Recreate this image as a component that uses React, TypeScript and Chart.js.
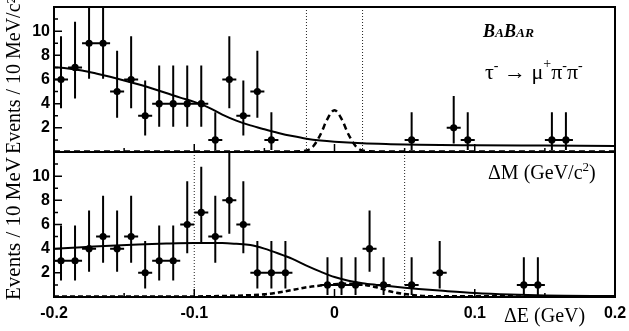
import React, { useEffect, useRef } from "react";
import { Chart, registerables } from "chart.js";

Chart.register(...registerables);

// ---------- data (top panel: ΔM) ----------
const topCenters = [-0.195, -0.185, -0.175, -0.165, -0.155, -0.145, -0.135, -0.125, -0.115, -0.105, -0.095, -0.085, -0.075, -0.065, -0.055, -0.045, 0.055, 0.085, 0.095, 0.155, 0.165];
const topCounts = [6, 7, 9, 9, 5, 6, 3, 4, 4, 4, 4, 1, 6, 3, 5, 1, 1, 2, 1, 1, 1];
const topLower = [3.62, 4.42, 6.06, 6.06, 2.84, 3.62, 1.37, 2.09, 2.09, 2.09, 2.09, 0.17, 3.62, 1.37, 2.84, 0.17, 0.17, 0.71, 0.17, 0.17, 0.17];
const topUpper = [9.58, 10.77, 13.11, 13.11, 8.38, 9.58, 5.92, 7.16, 7.16, 7.16, 7.16, 3.3, 9.58, 5.92, 8.38, 3.3, 3.3, 4.64, 3.3, 3.3, 3.3];

const topFitX = [-0.2, -0.19, -0.18, -0.17, -0.16, -0.15, -0.14, -0.13, -0.12, -0.11, -0.1, -0.09, -0.08, -0.07, -0.06, -0.05, -0.04, -0.03, -0.02, -0.01, 0, 0.02, 0.04, 0.06, 0.1, 0.15, 0.2];
const topFitY = [7.02, 6.92, 6.75, 6.5, 6.22, 5.92, 5.6, 5.25, 4.88, 4.5, 4.15, 3.7, 3.1, 2.6, 2.2, 1.88, 1.58, 1.32, 1.1, 0.95, 0.85, 0.72, 0.65, 0.6, 0.56, 0.53, 0.5];
const topSigX = [-0.2, -0.03, -0.02, -0.015, -0.01, -0.005, 0, 0.005, 0.01, 0.015, 0.02, 0.03, 0.2];
const topSigY = [0.05, 0.05, 0.12, 0.5, 1.45, 2.75, 3.46, 2.75, 1.45, 0.5, 0.12, 0.05, 0.05];
const topCuts = [-0.02, 0.02];

// ---------- data (bottom panel: ΔE) ----------
const botCenters = [-0.195, -0.185, -0.175, -0.165, -0.155, -0.145, -0.135, -0.125, -0.115, -0.105, -0.095, -0.085, -0.075, -0.065, -0.055, -0.045, -0.035, -0.005, 0.005, 0.015, 0.025, 0.035, 0.055, 0.075, 0.135, 0.145];
const botCounts = [3, 3, 4, 5, 4, 5, 2, 3, 3, 6, 7, 5, 8, 6, 2, 2, 2, 1, 1, 1, 4, 1, 1, 2, 1, 1];
const botLower = [1.37, 1.37, 2.09, 2.84, 2.09, 2.84, 0.71, 1.37, 1.37, 3.62, 4.42, 2.84, 5.23, 3.62, 0.71, 0.71, 0.71, 0.17, 0.17, 0.17, 2.09, 0.17, 0.17, 0.71, 0.17, 0.17];
const botUpper = [5.92, 5.92, 7.16, 8.38, 7.16, 8.38, 4.64, 5.92, 5.92, 9.58, 10.77, 8.38, 11.95, 9.58, 4.64, 4.64, 4.64, 3.3, 3.3, 3.3, 7.16, 3.3, 3.3, 4.64, 3.3, 3.3];

const botFitX = [-0.2, -0.18, -0.16, -0.14, -0.12, -0.1, -0.08, -0.07, -0.06, -0.05, -0.04, -0.03, -0.02, -0.01, 0, 0.01, 0.02, 0.03, 0.04, 0.05, 0.06, 0.075, 0.1, 0.125, 0.15, 0.2];
const botFitY = [4.0, 4.12, 4.25, 4.35, 4.42, 4.46, 4.46, 4.4, 4.3, 4.0, 3.6, 3.15, 2.6, 2.1, 1.65, 1.35, 1.14, 1.0, 0.88, 0.76, 0.66, 0.53, 0.33, 0.2, 0.12, 0.08];
const botSigX = [-0.2, -0.1, -0.08, -0.06, -0.05, -0.04, -0.03, -0.02, -0.01, 0, 0.01, 0.02, 0.03, 0.04, 0.05, 0.06, 0.07, 0.2];
const botSigY = [0.05, 0.05, 0.08, 0.15, 0.22, 0.38, 0.58, 0.8, 0.95, 1.06, 1.1, 1.02, 0.8, 0.45, 0.25, 0.12, 0.06, 0.05];
const botCuts = [-0.1, 0.05];

// ---------- axis settings ----------
const xRange = [-0.2, 0.2];
const yRange = [0, 12];
const yLabelled = [2, 4, 6, 8, 10];
const yTickMarks = [1, 2, 3, 4, 5, 6, 7, 8, 9, 10, 11];
const xTickMarks = [-0.15, -0.1, -0.05, 0, 0.05, 0.1, 0.15];
const xLabelled = [-0.2, -0.1, 0, 0.1, 0.2];
const binHalfWidth = 0.005;

const SERIF = '"Liberation Serif", "Times New Roman", serif';
const SANS = '"Liberation Sans", Arial, sans-serif';

type P = { x: number; y: number | null };

function pairs(xs: number[], ys: number[]): P[] {
  return xs.map((x, i) => ({ x, y: ys[i] }));
}
function verticalBars(c: number[], lo: number[], hi: number[]): P[] {
  const out: P[] = [];
  c.forEach((x, i) => {
    out.push({ x, y: lo[i] }, { x, y: hi[i] }, { x, y: null });
  });
  return out;
}
function horizontalBars(c: number[], v: number[]): P[] {
  const out: P[] = [];
  c.forEach((x, i) => {
    out.push({ x: x - binHalfWidth, y: v[i] }, { x: x + binHalfWidth, y: v[i] }, { x, y: null });
  });
  return out;
}
function cutLines(cuts: number[]): P[] {
  const out: P[] = [];
  cuts.forEach((x) => {
    out.push({ x, y: yRange[0] }, { x, y: yRange[1] }, { x, y: null });
  });
  return out;
}

function makeDatasets(c: number[], v: number[], lo: number[], hi: number[], fx: number[], fy: number[], sx: number[], sy: number[], cuts: number[], dash: number[]) {
  return [
    { data: pairs(c, v), showLine: false, pointRadius: 3.6, pointBackgroundColor: "#000", pointBorderColor: "#000", pointBorderWidth: 0, clip: 0 },
    { data: verticalBars(c, lo, hi), borderColor: "#000", borderWidth: 2, pointRadius: 0, tension: 0, spanGaps: false, clip: 0 },
    { data: horizontalBars(c, v), borderColor: "#000", borderWidth: 2, pointRadius: 0, tension: 0, spanGaps: false, clip: 0 },
    { data: pairs(fx, fy), borderColor: "#000", borderWidth: 2, pointRadius: 0, cubicInterpolationMode: "monotone", clip: 0 },
    { data: pairs(sx, sy), borderColor: "#000", borderWidth: 2.5, borderDash: dash, pointRadius: 0, cubicInterpolationMode: "monotone", clip: 0 },
    { data: cutLines(cuts), borderColor: "#222", borderWidth: 1, borderDash: [1, 2], pointRadius: 0, tension: 0, spanGaps: false, clip: 0 },
  ];
}

function drawFrame(chart: any) {
  const { ctx, chartArea: a, scales } = chart;
  ctx.save();
  ctx.strokeStyle = "#000";
  ctx.lineWidth = 2;
  ctx.strokeRect(a.left, a.top, a.right - a.left, a.bottom - a.top);
  ctx.lineWidth = 1.5;
  ctx.beginPath();
  yTickMarks.forEach((v) => {
    const py = scales.y.getPixelForValue(v);
    const len = v % 2 === 0 ? 8 : 4;
    ctx.moveTo(a.left, py);
    ctx.lineTo(a.left + len, py);
  });
  xTickMarks.forEach((v) => {
    const px = scales.x.getPixelForValue(v);
    const major = Math.abs(Math.round(v * 10) - v * 10) < 1e-6;
    const len = major ? 8 : 4;
    ctx.moveTo(px, a.bottom);
    ctx.lineTo(px, a.bottom - len);
  });
  ctx.stroke();
  ctx.restore();
}

function drawRotated(ctx: CanvasRenderingContext2D, text: string, x: number, y: number, font: string) {
  ctx.save();
  ctx.translate(x, y);
  ctx.rotate(-Math.PI / 2);
  ctx.font = font;
  ctx.fillStyle = "#000";
  ctx.textAlign = "left";
  ctx.textBaseline = "alphabetic";
  ctx.fillText(text, 0, 0);
  ctx.restore();
}

function drawPieces(ctx: CanvasRenderingContext2D, x: number, y: number, pieces: { t: string; font: string; dy: number }[]) {
  let cx = x;
  pieces.forEach((p) => {
    ctx.font = p.font;
    ctx.fillText(p.t, cx, y + p.dy);
    cx += ctx.measureText(p.t).width;
  });
}

const topPlugin = {
  id: "topDecor",
  afterDraw(chart: any) {
    drawFrame(chart);
    const ctx = chart.ctx as CanvasRenderingContext2D;
    ctx.save();
    ctx.fillStyle = "#000";
    ctx.textAlign = "left";
    ctx.textBaseline = "alphabetic";
    const big = `bold italic 18px ${SERIF}`;
    const small = `bold italic 13.5px ${SERIF}`;
    drawPieces(ctx, 483, 37, [
      { t: "B", font: big, dy: 0 },
      { t: "A", font: small, dy: 0 },
      { t: "B", font: big, dy: 0 },
      { t: "AR", font: small, dy: 0 },
    ]);
    const f = `22px ${SERIF}`;
    const s = `14px ${SERIF}`;
    drawPieces(ctx, 485, 79, [
      { t: "τ", font: f, dy: 0 },
      { t: "-", font: s, dy: -9 },
      { t: " → μ", font: f, dy: 0 },
      { t: "+", font: s, dy: -11 },
      { t: "π", font: f, dy: 0 },
      { t: "-", font: s, dy: -9 },
      { t: "π", font: f, dy: 0 },
      { t: "-", font: s, dy: -9 },
    ]);
    ctx.restore();
    drawRotated(ctx, "Events / 10 MeV/c²", 20, 154, `20px ${SERIF}`);
  },
};

const bottomPlugin = {
  id: "botDecor",
  afterDraw(chart: any) {
    drawFrame(chart);
    const ctx = chart.ctx as CanvasRenderingContext2D;
    ctx.save();
    ctx.fillStyle = "#000";
    ctx.textAlign = "left";
    ctx.textBaseline = "alphabetic";
    drawPieces(ctx, 488, 27, [
      { t: "ΔM (GeV/c", font: `20px ${SERIF}`, dy: 0 },
      { t: "2", font: `13px ${SERIF}`, dy: -8 },
      { t: ")", font: `20px ${SERIF}`, dy: 0 },
    ]);
    ctx.font = `20px ${SERIF}`;
    ctx.fillText("ΔE (GeV)", 504, 170);
    ctx.restore();
    drawRotated(ctx, "Events / 10 MeV", 20, 148, `21px ${SERIF}`);
  },
};

function yScale() {
  return {
    type: "linear",
    min: yRange[0],
    max: yRange[1],
    grid: { display: false, drawTicks: false },
    border: { display: false },
    afterBuildTicks: (s: any) => {
      s.ticks = yLabelled.map((v) => ({ value: v }));
    },
    ticks: {
      autoSkip: false,
      padding: 4,
      color: "#000",
      font: { family: SANS, size: 16, weight: "bold" },
      callback: (v: any) => String(v),
    },
    afterFit: (s: any) => {
      s.width = 54;
      s.paddingTop = 0;
      s.paddingBottom = 0;
    },
  };
}

function useChart(ref: React.RefObject<HTMLCanvasElement>, build: () => any) {
  useEffect(() => {
    if (!ref.current) return;
    const chart = new Chart(ref.current, build());
    return () => chart.destroy();
  }, []);
}

export default function App() {
  const topRef = useRef<HTMLCanvasElement>(null);
  const botRef = useRef<HTMLCanvasElement>(null);

  useChart(topRef, () => ({
    type: "line",
    data: { datasets: makeDatasets(topCenters, topCounts, topLower, topUpper, topFitX, topFitY, topSigX, topSigY, topCuts, [6, 4]) },
    options: {
      responsive: false,
      animation: false,
      layout: { autoPadding: false, padding: { left: 0, right: 14, top: 7, bottom: 1 } },
      plugins: { legend: { display: false }, tooltip: { enabled: false } },
      scales: {
        x: { type: "linear", min: xRange[0], max: xRange[1], display: false },
        y: yScale(),
      },
    },
    plugins: [topPlugin],
  }));

  useChart(botRef, () => ({
    type: "line",
    data: { datasets: makeDatasets(botCenters, botCounts, botLower, botUpper, botFitX, botFitY, botSigX, botSigY, botCuts, [5, 3]) },
    options: {
      responsive: false,
      animation: false,
      layout: { autoPadding: false, padding: { left: 0, right: 14, top: 0, bottom: 0 } },
      plugins: { legend: { display: false }, tooltip: { enabled: false } },
      scales: {
        x: {
          type: "linear",
          min: xRange[0],
          max: xRange[1],
          grid: { display: false, drawTicks: false },
          border: { display: false },
          afterBuildTicks: (s: any) => {
            s.ticks = xLabelled.map((v) => ({ value: v }));
          },
          ticks: {
            autoSkip: false,
            maxRotation: 0,
            padding: 7,
            color: "#000",
            font: { family: SANS, size: 16, weight: "bold" },
            callback: (v: any) => {
              const n = Number(v);
              return Math.abs(n) < 1e-9 ? "0" : n.toFixed(1);
            },
          },
          afterFit: (s: any) => {
            s.height = 34;
            s.paddingLeft = 0;
            s.paddingRight = 0;
          },
        },
        y: yScale(),
      },
    },
    plugins: [bottomPlugin],
  }));

  return (
    <div style={{ position: "fixed", left: 0, top: 0, width: 629, height: 331, background: "#fff", overflow: "hidden" }}>
      <canvas ref={topRef} width={629} height={153} style={{ position: "absolute", left: 0, top: 0, width: 629, height: 153 }} />
      <canvas ref={botRef} width={629} height={179} style={{ position: "absolute", left: 0, top: 152, width: 629, height: 179 }} />
    </div>
  );
}
